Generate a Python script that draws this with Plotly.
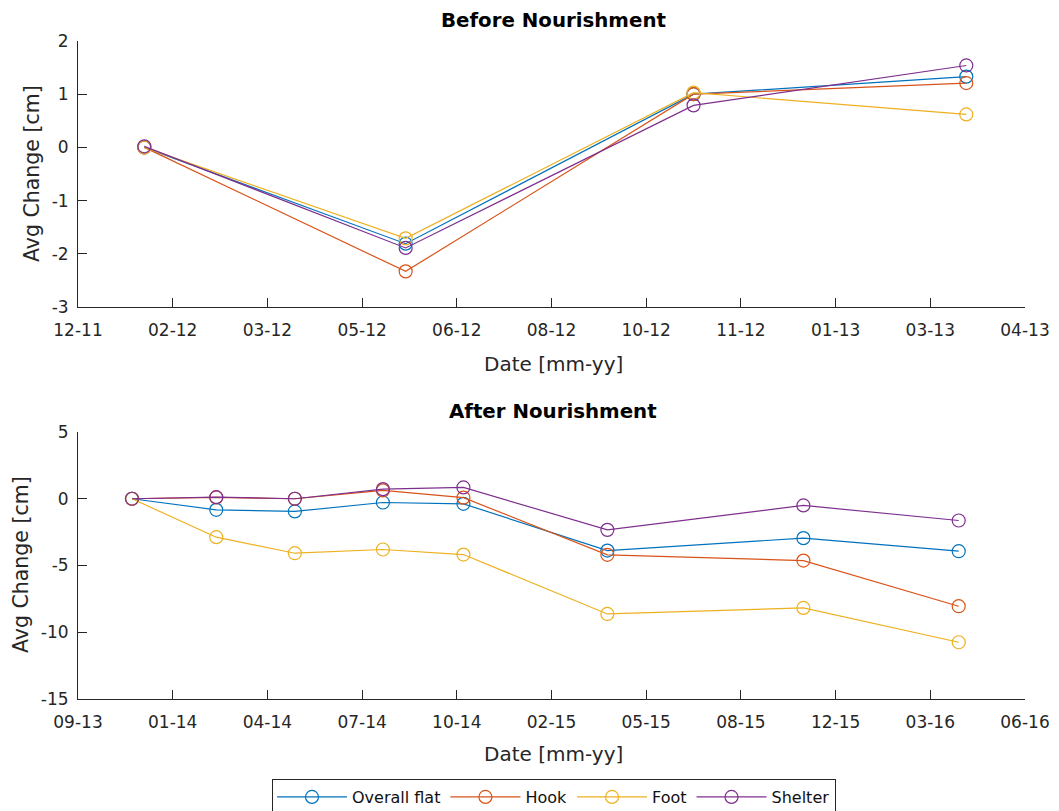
import plotly.graph_objects as go
import pandas as pd

# ---------------- data ----------------
series_names = ["Overall flat", "Hook", "Foot", "Shelter"]
series_colors = ["#0072BD", "#D95319", "#EDB120", "#7E2F8E"]

before_dates = ["2012-01-17", "2012-06-03", "2012-11-02", "2013-03-26"]
overall_before = [0.0, -1.81, 1.00, 1.33]
hook_before = [0.0, -2.33, 1.00, 1.21]
foot_before = [0.0, -1.71, 1.03, 0.62]
shelter_before = [0.02, -1.89, 0.79, 1.54]

after_dates = ["2013-11-19", "2014-02-16", "2014-05-10", "2014-08-11",
               "2014-11-04", "2015-04-05", "2015-10-29", "2016-04-10"]
overall_after = [0.0, -0.83, -0.95, -0.28, -0.38, -3.88, -2.95, -3.93]
hook_after = [0.0, 0.10, 0.0, 0.62, 0.08, -4.20, -4.63, -8.05]
foot_after = [0.0, -2.88, -4.08, -3.80, -4.18, -8.63, -8.18, -10.75]
shelter_after = [0.0, 0.12, 0.0, 0.72, 0.85, -2.33, -0.50, -1.63]

# tick positions (MATLAB datenum ticks every 50 / 100 days)
before_tick_start = "2011-12-13"
before_tick_step_days = 50
after_tick_start = "2013-09-23"
after_tick_step_days = 100
n_ticks = 11

before_yticks = [-3, -2, -1, 0, 1, 2]
after_yticks = [-15, -10, -5, 0, 5]

before_ticks = [pd.Timestamp(before_tick_start) + pd.Timedelta(days=before_tick_step_days * k) for k in range(n_ticks)]
after_ticks = [pd.Timestamp(after_tick_start) + pd.Timedelta(days=after_tick_step_days * k) for k in range(n_ticks)]

before_vals = [overall_before, hook_before, foot_before, shelter_before]
after_vals = [overall_after, hook_after, foot_after, shelter_after]

# ---------------- figure ----------------
# the page body has an 8px margin, so the figure is drawn 8px smaller and
# positions are given in window pixels shifted by that offset
OFF = 8
W, H = 1059 - OFF, 811 - OFF
AX = "#262626"
FONT = "DejaVu Sans, Liberation Sans, Arial, sans-serif"


def px(x):
    return (x - OFF) / W


def py(y):
    return (H - (y - OFF)) / H


fig = go.Figure()

for name, color, vals in zip(series_names, series_colors, before_vals):
    fig.add_trace(go.Scatter(
        x=before_dates, y=vals, mode="lines+markers", name=name,
        line=dict(color=color, width=1.2),
        marker=dict(symbol="circle-open", size=13, color=color, line=dict(width=1.2, color=color)),
        xaxis="x", yaxis="y", showlegend=False, legendgroup=name,
    ))

for name, color, vals in zip(series_names, series_colors, after_vals):
    fig.add_trace(go.Scatter(
        x=after_dates, y=vals, mode="lines+markers", name=name,
        line=dict(color=color, width=1.2),
        marker=dict(symbol="circle-open", size=13, color=color, line=dict(width=1.2, color=color)),
        xaxis="x2", yaxis="y2", showlegend=True, legendgroup=name,
    ))

xdom = [px(78), px(1025)]
top_dom = [py(307), py(41)]
bot_dom = [py(699), py(432)]

common_axis = dict(
    showline=True, linecolor=AX, linewidth=1, ticks="inside", ticklen=9,
    tickcolor=AX, tickwidth=1, showgrid=False, zeroline=False,
    tickfont=dict(family=FONT, size=17, color=AX), mirror=False, automargin=False,
)

fig.update_layout(
    width=W, height=H,
    margin=dict(l=0, r=0, t=0, b=0, pad=0, autoexpand=False),
    paper_bgcolor="white", plot_bgcolor="white",
    font=dict(family=FONT, color=AX),
    xaxis=dict(domain=xdom, anchor="y", type="date",
               range=[before_ticks[0], before_ticks[-1]],
               tickvals=before_ticks, ticktext=[t.strftime("%m-%y") for t in before_ticks],
               ticklabelstandoff=8, **common_axis),
    yaxis=dict(domain=top_dom, anchor="x", range=[before_yticks[0], before_yticks[-1]],
               tickvals=before_yticks, ticktext=[str(v) for v in before_yticks],
               ticklabelstandoff=5, **common_axis),
    xaxis2=dict(domain=xdom, anchor="y2", type="date",
                range=[after_ticks[0], after_ticks[-1]],
                tickvals=after_ticks, ticktext=[t.strftime("%m-%y") for t in after_ticks],
                ticklabelstandoff=8, **common_axis),
    yaxis2=dict(domain=bot_dom, anchor="x2", range=[after_yticks[0], after_yticks[-1]],
                tickvals=after_yticks, ticktext=[str(v) for v in after_yticks],
                ticklabelstandoff=5, **common_axis),
    legend=dict(orientation="h", x=px(272), xanchor="left", y=py(779), yanchor="top",
                bordercolor=AX, borderwidth=1, bgcolor="white",
                font=dict(family=FONT, size=16, color="#111111"),
                itemwidth=70, tracegroupgap=0),
    showlegend=True,
)

ann = [
    dict(text="<b>Before Nourishment</b>", x=px(553), y=py(21), font=dict(size=19.8, color="black")),
    dict(text="<b>After Nourishment</b>", x=px(553), y=py(411), font=dict(size=19.8, color="black")),
    dict(text="Date [mm-yy]", x=px(553), y=py(364), font=dict(size=20, color=AX)),
    dict(text="Date [mm-yy]", x=px(553), y=py(754), font=dict(size=20, color=AX)),
    dict(text="Avg Change [cm]", x=px(32), y=py(174), textangle=-90, font=dict(size=20.5, color=AX)),
    dict(text="Avg Change [cm]", x=px(21), y=py(565), textangle=-90, font=dict(size=20.5, color=AX)),
]
for a in ann:
    a.update(xref="paper", yref="paper", showarrow=False, xanchor="center", yanchor="middle")
    a["font"]["family"] = FONT
fig.update_layout(annotations=ann)

fig.write_html("out.html")
